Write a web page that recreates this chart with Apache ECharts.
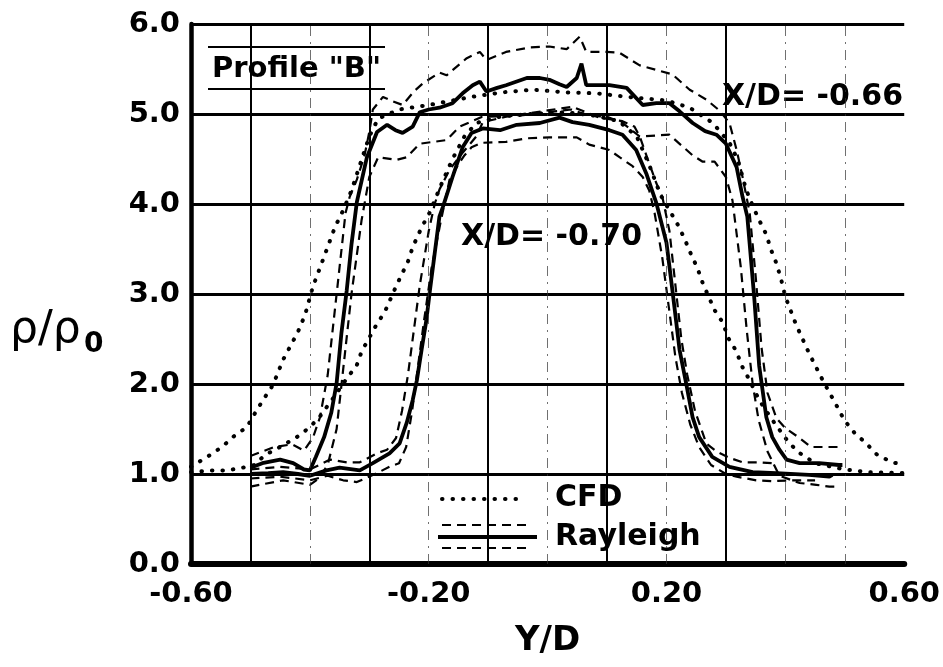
<!DOCTYPE html>
<html>
<head>
<meta charset="UTF-8">
<title>Profile B density</title>
<script src="https://cdn.jsdelivr.net/npm/echarts@6/dist/echarts.min.js"></script>
<style>
  html, body { margin: 0; padding: 0; background: #fff; }
  #chart { width: 943px; height: 667px; }
</style>
</head>
<body>
<div id="chart"></div>
<script>
// Rayleigh, X/D = -0.66 : mean and upper / lower bounds
var ray66 = [[-0.50,1.07],[-0.48,1.12],[-0.45,1.16],[-0.428,1.12],[-0.41,1.05],[-0.40,1.04],[-0.39,1.19],[-0.376,1.41],[-0.364,1.68],[-0.355,2.01],[-0.347,2.56],[-0.338,3.04],[-0.33,3.55],[-0.321,4.02],[-0.304,4.52],[-0.287,4.8],[-0.27,4.88],[-0.256,4.82],[-0.244,4.79],[-0.227,4.86],[-0.215,5.02],[-0.2,5.05],[-0.182,5.07],[-0.16,5.12],[-0.143,5.23],[-0.126,5.32],[-0.114,5.36],[-0.103,5.25],[-0.085,5.29],[-0.07,5.32],[-0.035,5.4],[-0.013,5.4],[0.003,5.38],[0.02,5.33],[0.032,5.3],[0.049,5.4],[0.057,5.56],[0.065,5.32],[0.085,5.32],[0.104,5.32],[0.133,5.29],[0.16,5.1],[0.183,5.12],[0.205,5.12],[0.222,5.03],[0.244,4.9],[0.265,4.81],[0.284,4.77],[0.3,4.67],[0.318,4.41],[0.328,4.08],[0.336,3.86],[0.342,3.4],[0.348,2.93],[0.356,2.2],[0.368,1.63],[0.378,1.41],[0.39,1.27],[0.402,1.16],[0.424,1.12],[0.457,1.12],[0.49,1.1],[0.496,1.1]];
var ray66Hi = [[-0.50,1.2],[-0.46,1.3],[-0.43,1.33],[-0.41,1.26],[-0.395,1.4],[-0.383,1.63],[-0.37,2.1],[-0.36,2.7],[-0.35,3.3],[-0.34,3.9],[-0.333,4.08],[-0.321,4.27],[-0.308,4.54],[-0.3,4.8],[-0.294,5.05],[-0.277,5.19],[-0.26,5.14],[-0.244,5.1],[-0.225,5.25],[-0.21,5.34],[-0.182,5.46],[-0.17,5.43],[-0.136,5.62],[-0.114,5.69],[-0.103,5.6],[-0.07,5.69],[-0.03,5.74],[0.003,5.75],[0.032,5.72],[0.054,5.86],[0.065,5.69],[0.099,5.69],[0.121,5.68],[0.155,5.54],[0.183,5.49],[0.21,5.44],[0.239,5.27],[0.267,5.16],[0.289,5.04],[0.306,4.9],[0.318,4.6],[0.328,4.3],[0.34,3.9],[0.35,3.2],[0.36,2.4],[0.37,1.9],[0.385,1.62],[0.4,1.51],[0.424,1.4],[0.443,1.3],[0.469,1.3],[0.494,1.3]];
var ray66Lo = [[-0.50,0.86],[-0.445,0.93],[-0.4,0.88],[-0.385,0.95],[-0.37,1.1],[-0.355,1.5],[-0.345,2.1],[-0.33,3.0],[-0.313,3.82],[-0.3,4.3],[-0.285,4.52],[-0.254,4.49],[-0.237,4.52],[-0.215,4.67],[-0.17,4.71],[-0.148,4.86],[-0.11,4.97],[-0.05,4.98],[0.0,5.02],[0.04,5.05],[0.07,4.98],[0.1,4.97],[0.126,4.9],[0.155,4.75],[0.205,4.77],[0.227,4.64],[0.244,4.54],[0.261,4.47],[0.281,4.47],[0.3,4.3],[0.311,4.04],[0.325,3.3],[0.335,2.6],[0.345,2.0],[0.355,1.6],[0.37,1.25],[0.39,0.98],[0.424,0.9],[0.452,0.88],[0.474,0.86],[0.49,0.86]];

// Rayleigh, X/D = -0.70 : mean and upper / lower bounds
var ray70 = [[-0.50,1.0],[-0.47,1.01],[-0.445,1.02],[-0.42,1.0],[-0.4,0.98],[-0.372,1.04],[-0.35,1.07],[-0.316,1.04],[-0.294,1.12],[-0.266,1.23],[-0.249,1.34],[-0.237,1.57],[-0.227,1.82],[-0.22,2.04],[-0.212,2.38],[-0.204,2.71],[-0.198,3.04],[-0.19,3.45],[-0.182,3.86],[-0.176,3.97],[-0.16,4.3],[-0.143,4.63],[-0.128,4.79],[-0.109,4.84],[-0.08,4.82],[-0.052,4.88],[-0.013,4.9],[0.02,4.96],[0.042,4.91],[0.07,4.88],[0.104,4.82],[0.126,4.77],[0.149,4.6],[0.166,4.34],[0.183,4.01],[0.2,3.57],[0.21,3.04],[0.222,2.38],[0.233,2.01],[0.244,1.63],[0.255,1.41],[0.277,1.19],[0.306,1.08],[0.345,1.02],[0.385,1.01],[0.44,0.99],[0.474,0.97],[0.479,0.99]];
var ray70Hi = [[-0.50,1.05],[-0.45,1.08],[-0.4,1.05],[-0.366,1.16],[-0.338,1.13],[-0.316,1.13],[-0.287,1.23],[-0.27,1.27],[-0.255,1.4],[-0.245,1.7],[-0.235,2.1],[-0.225,2.6],[-0.215,3.1],[-0.2,3.7],[-0.19,4.0],[-0.182,4.16],[-0.165,4.38],[-0.143,4.57],[-0.12,4.75],[-0.109,4.91],[-0.07,4.97],[-0.03,5.01],[0.0,5.04],[0.042,5.08],[0.087,4.96],[0.126,4.92],[0.146,4.86],[0.155,4.75],[0.163,4.6],[0.171,4.45],[0.183,4.23],[0.193,4.08],[0.205,3.7],[0.215,3.1],[0.225,2.5],[0.235,2.1],[0.248,1.7],[0.267,1.34],[0.284,1.25],[0.306,1.18],[0.328,1.13],[0.356,1.13],[0.378,1.12]];
var ray70Lo = [[-0.50,0.95],[-0.45,0.97],[-0.4,0.93],[-0.37,0.98],[-0.344,0.93],[-0.321,0.91],[-0.287,1.01],[-0.266,1.08],[-0.25,1.12],[-0.238,1.3],[-0.228,1.7],[-0.218,2.2],[-0.208,2.7],[-0.195,3.3],[-0.18,3.8],[-0.165,4.27],[-0.151,4.43],[-0.14,4.54],[-0.128,4.63],[-0.111,4.68],[-0.07,4.69],[-0.035,4.73],[0.003,4.74],[0.049,4.74],[0.07,4.66],[0.104,4.6],[0.121,4.52],[0.143,4.42],[0.16,4.3],[0.171,4.15],[0.18,3.9],[0.193,3.4],[0.205,2.8],[0.215,2.3],[0.226,1.9],[0.24,1.55],[0.255,1.3],[0.275,1.1],[0.3,1.0],[0.318,0.97],[0.351,0.93],[0.378,0.92],[0.41,0.93],[0.45,0.93]];

// CFD, X/D = -0.66 (wide) and X/D = -0.70 (narrow)
var cfd66 = [[-0.6,1.08],[-0.568,1.21],[-0.548,1.3],[-0.526,1.43],[-0.506,1.52],[-0.492,1.68],[-0.479,1.82],[-0.462,1.99],[-0.445,2.27],[-0.42,2.58],[-0.408,2.77],[-0.395,3.08],[-0.378,3.38],[-0.358,3.74],[-0.344,3.93],[-0.33,4.15],[-0.315,4.45],[-0.3,4.75],[-0.285,4.95],[-0.25,5.05],[-0.2,5.1],[-0.16,5.15],[-0.128,5.19],[-0.077,5.24],[-0.025,5.27],[0.032,5.24],[0.082,5.23],[0.134,5.19],[0.2,5.15],[0.239,5.07],[0.278,4.9],[0.306,4.68],[0.32,4.49],[0.334,4.16],[0.345,3.98],[0.356,3.82],[0.368,3.66],[0.376,3.49],[0.385,3.34],[0.393,3.16],[0.4,2.97],[0.418,2.66],[0.44,2.34],[0.463,2.04],[0.487,1.75],[0.499,1.6],[0.516,1.46],[0.536,1.34],[0.555,1.21],[0.58,1.13],[0.6,1.1]];
var cfd70 = [[-0.6,1.02],[-0.565,1.04],[-0.54,1.04],[-0.513,1.07],[-0.493,1.1],[-0.476,1.21],[-0.45,1.3],[-0.422,1.41],[-0.4,1.52],[-0.383,1.64],[-0.36,1.85],[-0.338,2.06],[-0.321,2.21],[-0.313,2.36],[-0.287,2.67],[-0.274,2.8],[-0.254,3.1],[-0.235,3.36],[-0.227,3.52],[-0.212,3.74],[-0.198,3.91],[-0.18,4.2],[-0.16,4.5],[-0.14,4.75],[-0.12,4.9],[-0.08,4.97],[-0.03,5.0],[0.03,5.02],[0.08,4.98],[0.12,4.92],[0.15,4.75],[0.17,4.45],[0.19,4.1],[0.205,3.93],[0.219,3.77],[0.23,3.62],[0.242,3.43],[0.252,3.29],[0.261,3.12],[0.281,2.82],[0.295,2.68],[0.304,2.51],[0.318,2.36],[0.326,2.21],[0.34,2.04],[0.356,1.82],[0.376,1.62],[0.4,1.4],[0.42,1.25],[0.45,1.12],[0.5,1.05],[0.541,1.02],[0.6,1.01]];

// tick labels and grid positions
var xTickLabels = [-0.6, -0.2, 0.2, 0.6];
var gridSolidX = [-0.5, -0.3, -0.1, 0.1, 0.3];
var gridDashX = [-0.4, -0.2, 0, 0.2, 0.4, 0.5];

var FONT = '"DejaVu Sans", sans-serif';

var chart = echarts.init(document.getElementById('chart'), null, { renderer: 'canvas' });

function lineSeries(data, kind) {
  var ls = { color: '#000' };
  if (kind === 'solid') { ls.width = 3.8; ls.type = 'solid'; }
  if (kind === 'dash') { ls.width = 2.2; ls.type = [9, 6]; }
  if (kind === 'dot') { ls.width = 4; ls.type = [0.5, 10]; ls.cap = 'round'; }
  return {
    type: 'line', data: data, symbol: 'none', smooth: false,
    lineStyle: ls, silent: true, animation: false, z: 3
  };
}

var gridLines = gridSolidX.map(function (v) {
  return { xAxis: v, lineStyle: { color: '#000', width: 2, type: 'solid' } };
}).concat(gridDashX.map(function (v) {
  return { xAxis: v, lineStyle: { color: '#333', width: 1, type: [10, 6, 2, 6], opacity: 0.7 } };
}));

var option = {
  backgroundColor: '#fff',
  animation: false,
  grid: { left: 191, right: 38, top: 24, bottom: 103, containLabel: false },
  xAxis: {
    type: 'value', min: -0.6, max: 0.6, interval: 0.2,
    name: 'Y/D', nameLocation: 'middle', nameGap: 60,
    nameTextStyle: { fontFamily: FONT, fontWeight: 'bold', fontSize: 34, color: '#000' },
    axisLine: { show: true, onZero: false, lineStyle: { color: '#000', width: 6 } },
    axisTick: { show: false },
    splitLine: { show: false },
    axisLabel: {
      margin: 16, fontFamily: FONT, fontWeight: 'bold', fontSize: 29, color: '#000',
      showMinLabel: true, showMaxLabel: true, hideOverlap: false,
      formatter: function (v) {
        return xTickLabels.some(function (t) { return Math.abs(t - v) < 1e-6; }) ? v.toFixed(2) : '';
      }
    }
  },
  yAxis: {
    type: 'value', min: 0, max: 6, interval: 1,
    axisLine: { show: true, onZero: false, lineStyle: { color: '#000', width: 4.5 } },
    axisTick: { show: false },
    splitLine: { show: true, lineStyle: { color: '#000', width: 3 } },
    axisLabel: {
      margin: 11, fontFamily: FONT, fontWeight: 'bold', fontSize: 29, color: '#000',
      formatter: function (v) { return v.toFixed(1); }
    }
  },
  series: [
    Object.assign(lineSeries([], 'solid'), {
      markLine: { silent: true, symbol: ['none', 'none'], label: { show: false }, animation: false, data: gridLines }
    }),
    lineSeries(cfd66, 'dot'),
    lineSeries(cfd70, 'dot'),
    lineSeries(ray66Hi, 'dash'),
    lineSeries(ray66Lo, 'dash'),
    lineSeries(ray70Hi, 'dash'),
    lineSeries(ray70Lo, 'dash'),
    lineSeries(ray66, 'solid'),
    lineSeries(ray70, 'solid')
  ],
  graphic: [
    // y axis title
    { type: 'text', x: 10, y: 331, style: { text: 'ρ/ρ', font: '44px ' + FONT, fill: '#000', verticalAlign: 'middle' } },
    { type: 'text', x: 84, y: 345, style: { text: '0', font: 'bold 28px ' + FONT, fill: '#000', verticalAlign: 'middle' } },
    // profile box
    { type: 'line', shape: { x1: 208, y1: 47, x2: 385, y2: 47 }, style: { stroke: '#000', lineWidth: 2 } },
    { type: 'line', shape: { x1: 208, y1: 89, x2: 385, y2: 89 }, style: { stroke: '#000', lineWidth: 2 } },
    { type: 'text', x: 212, y: 69, style: { text: 'Profile "B"', font: 'bold 29px ' + FONT, fill: '#000', verticalAlign: 'middle' } },
    // curve labels
    { type: 'text', x: 903, y: 97, style: { text: 'X/D= -0.66', font: 'bold 30px ' + FONT, fill: '#000', align: 'right', verticalAlign: 'middle' } },
    { type: 'text', x: 461, y: 237, style: { text: 'X/D= -0.70', font: 'bold 30px ' + FONT, fill: '#000', verticalAlign: 'middle' } },
    // legend
    { type: 'line', shape: { x1: 442, y1: 499, x2: 526, y2: 499 }, style: { stroke: '#000', lineWidth: 4, lineDash: [0.5, 10], lineCap: 'round' } },
    { type: 'line', shape: { x1: 442, y1: 525, x2: 528, y2: 525 }, style: { stroke: '#000', lineWidth: 2.2, lineDash: [9, 6] } },
    { type: 'line', shape: { x1: 438, y1: 537, x2: 537, y2: 537 }, style: { stroke: '#000', lineWidth: 3.8 } },
    { type: 'line', shape: { x1: 442, y1: 548, x2: 528, y2: 548 }, style: { stroke: '#000', lineWidth: 2.2, lineDash: [9, 6] } },
    { type: 'text', x: 555, y: 498, style: { text: 'CFD', font: 'bold 30px ' + FONT, fill: '#000', verticalAlign: 'middle' } },
    { type: 'text', x: 555, y: 537, style: { text: 'Rayleigh', font: 'bold 30px ' + FONT, fill: '#000', verticalAlign: 'middle' } }
  ]
};

chart.setOption(option);
</script>
</body>
</html>
